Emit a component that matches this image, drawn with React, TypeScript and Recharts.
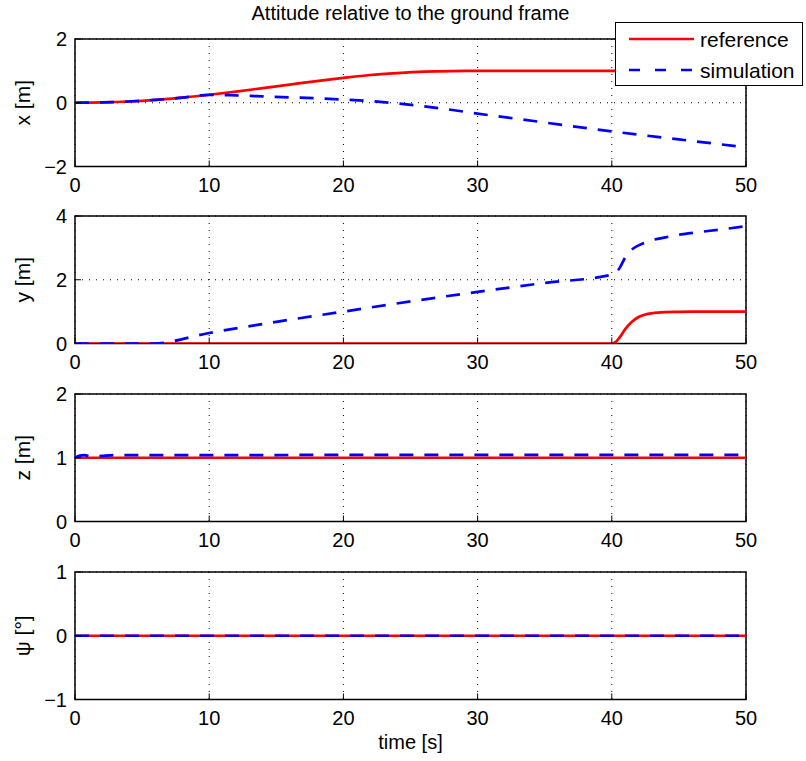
import React from 'react';
import { LineChart, Line, XAxis, YAxis, CartesianGrid, ReferenceArea, Legend } from 'recharts';

// time ticks shared by all four panels
const timeTicks = [0, 10, 20, 30, 40, 50];

// x [m]
const tX = [0, 2, 4, 6, 8, 10, 12, 14, 16, 18, 20, 22, 24, 26, 28, 30, 35, 40, 45, 50];
const xRef = [0, 0.01, 0.04, 0.09, 0.16, 0.25, 0.35, 0.46, 0.57, 0.68, 0.78, 0.87, 0.93, 0.975, 0.995, 1, 1, 1, 1, 1];
const xSim = [0, 0.01, 0.04, 0.09, 0.16, 0.25, 0.23, 0.2, 0.17, 0.14, 0.1, 0.05, -0.02, -0.11, -0.22, -0.34, -0.62, -0.9, -1.15, -1.4];

// y [m]
const tY = [0, 5, 5.8, 10, 15, 20, 25, 30, 35, 40, 40.3, 40.6, 41, 41.5, 42, 42.5, 43, 44, 45, 46, 48, 50];
const yRef = [0, 0, 0, 0, 0, 0, 0, 0, 0, 0, 0.05, 0.2, 0.45, 0.68, 0.83, 0.91, 0.95, 0.985, 0.995, 1, 1, 1];
const ySim = [0, 0, 0, 0.33, 0.68, 1.0, 1.32, 1.62, 1.9, 2.16, 2.22, 2.38, 2.7, 2.95, 3.08, 3.17, 3.24, 3.33, 3.41, 3.47, 3.57, 3.68];

// z [m]
const tZ = [0, 0.3, 0.7, 1.2, 2, 3, 5, 10, 20, 30, 40, 50];
const zRef = [1, 1, 1, 1, 1, 1, 1, 1, 1, 1, 1, 1];
const zSim = [1.0, 1.03, 1.04, 1.02, 1.03, 1.04, 1.04, 1.04, 1.045, 1.045, 1.045, 1.045];

// psi [deg]
const tPsi = [0, 10, 20, 30, 40, 50];
const psiRef = [0, 0, 0, 0, 0, 0];
const psiSim = [0, 0, 0, 0, 0, 0];

const FONT = '"Liberation Sans", Arial, Helvetica, sans-serif';
const FS = 20;
const RED = '#ff0000';
const BLUE = '#0000ff';
const DASH = '14 11';
const LW = 2.7;

const MT = 39; // chart top margin
const PLOT_H = 127.5;
const XH = 62;

const fmt = (v: number) => (v < 0 ? '\u2212' + Math.abs(v) : String(v));

type PanelProps = {
  t: number[];
  ref: number[];
  sim: number[];
  domain: [number, number];
  ticks: number[];
  ylabel: string;
  plotTop: number;
  xlabel?: string;
  legend?: boolean;
};

const LegendBox = () => (
  <div
    style={{
      width: 186,
      height: 62,
      border: '1.5px solid #000',
      background: '#fff',
      position: 'relative',
    }}
  >
    <svg width={186} height={62} style={{ position: 'absolute', left: 0, top: 0 }}>
      <line x1={13} x2={78} y1={16} y2={16} stroke={RED} strokeWidth={LW} />
      <line x1={13} x2={78} y1={47} y2={47} stroke={BLUE} strokeWidth={LW} strokeDasharray="11 15" />
      <text x={84} y={16} dominantBaseline="central" fill="#000" fontSize={21} fontFamily={FONT}>reference</text>
      <text x={84} y={47} dominantBaseline="central" fill="#000" fontSize={21} fontFamily={FONT}>simulation</text>
    </svg>
  </div>
);

const Panel = ({ t, ref, sim, domain, ticks, ylabel, plotTop, xlabel, legend }: PanelProps) => {
  const data = t.map((tt, i) => ({ t: tt, ref: ref[i], sim: sim[i] }));
  const tickStyle = { fontSize: FS, fill: '#000', fontFamily: FONT };
  return (
    <div style={{ position: 'absolute', left: 0, top: plotTop - MT }}>
      <LineChart width={806} height={MT + PLOT_H + XH} data={data} margin={{ top: MT, right: 60, bottom: 0, left: 0 }}>
        <CartesianGrid stroke="#000" strokeWidth={1} strokeDasharray="1 6" />
        <XAxis
          dataKey="t"
          type="number"
          domain={[0, 50]}
          ticks={timeTicks}
          interval={0}
          height={XH}
          axisLine={false}
          tickSize={-6}
          tickMargin={17}
          tickLine={{ stroke: '#000' }}
          tick={tickStyle}
          label={{
            content: (p: any) =>
              p.viewBox && xlabel ? (
                <text x={p.viewBox.x + p.viewBox.width / 2} y={p.viewBox.y + 42} textAnchor="middle" dominantBaseline="central" fontSize={FS} fontFamily={FONT} fill="#000">
                  {xlabel}
                </text>
              ) : null,
          }}
        />
        <XAxis
          xAxisId="top"
          orientation="top"
          type="number"
          domain={[0, 50]}
          ticks={timeTicks}
          interval={0}
          height={0}
          axisLine={false}
          tickSize={-6}
          tickLine={{ stroke: '#000' }}
          tickFormatter={() => ''}
        />
        <YAxis
          type="number"
          domain={domain}
          ticks={ticks}
          interval={0}
          width={75}
          axisLine={false}
          tickSize={-6}
          tickMargin={14}
          tickLine={{ stroke: '#000' }}
          tick={tickStyle}
          tickFormatter={fmt}
          allowDataOverflow
          label={{
            content: (p: any) =>
              p.viewBox ? (
                <text
                  x={22}
                  y={p.viewBox.y + p.viewBox.height / 2}
                  transform={`rotate(-90 22 ${p.viewBox.y + p.viewBox.height / 2})`}
                  textAnchor="middle"
                  dominantBaseline="central"
                  fontSize={21}
                  fontFamily={FONT}
                  fill="#000"
                >
                  {ylabel}
                </text>
              ) : null,
          }}
        />
        <YAxis
          yAxisId="right"
          orientation="right"
          type="number"
          domain={domain}
          ticks={ticks}
          interval={0}
          width={0}
          axisLine={false}
          tickSize={-6}
          tickLine={{ stroke: '#000' }}
          tickFormatter={() => ''}
        />
        <ReferenceArea x1={0} x2={50} y1={domain[0]} y2={domain[1]} fill="none" stroke="#000" strokeWidth={1.5} ifOverflow="visible" />
        <Line type="monotone" dataKey="ref" name="reference" stroke={RED} strokeWidth={LW} dot={false} activeDot={false} isAnimationActive={false} />
        <Line type="monotone" dataKey="sim" name="simulation" stroke={BLUE} strokeWidth={LW} strokeDasharray={DASH} dot={false} activeDot={false} isAnimationActive={false} />
        {legend && (
          <Legend
            layout="vertical"
            align="center"
            verticalAlign="middle"
            content={() => <LegendBox />}
            wrapperStyle={{ left: 615, top: 22, width: 189, height: 65 }}
          />
        )}
      </LineChart>
    </div>
  );
};

export default function App() {
  return (
    <div style={{ position: 'absolute', left: 0, top: 0, width: 806, height: 761, background: '#fff', fontFamily: FONT }}>
      <div
        style={{
          position: 'absolute',
          left: 75,
          top: 0,
          width: 671,
          height: 26,
          lineHeight: '26px',
          textAlign: 'center',
          fontSize: 20,
          color: '#000',
        }}
      >
        Attitude relative to the ground frame
      </div>
      <Panel t={tX} ref={xRef} sim={xSim} domain={[-2, 2]} ticks={[-2, 0, 2]} ylabel="x [m]" plotTop={39} legend />
      <Panel t={tY} ref={yRef} sim={ySim} domain={[0, 4]} ticks={[0, 2, 4]} ylabel="y [m]" plotTop={216} />
      <Panel t={tZ} ref={zRef} sim={zSim} domain={[0, 2]} ticks={[0, 1, 2]} ylabel="z [m]" plotTop={394} />
      <Panel t={tPsi} ref={psiRef} sim={psiSim} domain={[-1, 1]} ticks={[-1, 0, 1]} ylabel={'\u03C8 [\u00B0]'} plotTop={572} xlabel="time [s]" />
    </div>
  );
}
